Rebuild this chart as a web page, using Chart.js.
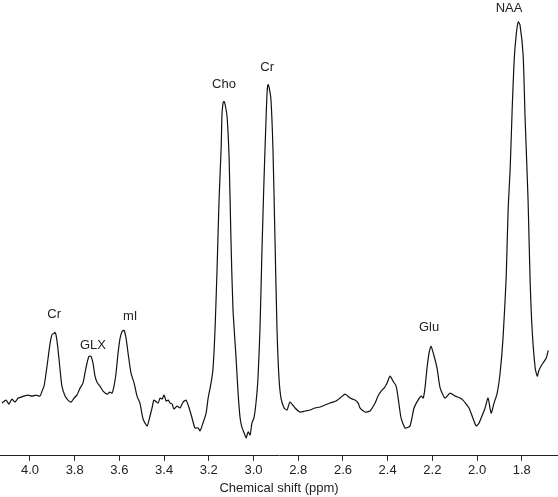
<!DOCTYPE html>
<html>
<head>
<meta charset="utf-8">
<script src="https://cdn.jsdelivr.net/npm/chart.js@4"></script>
<style>
  html, body { margin: 0; padding: 0; background: #fff; }
  #wrap { width: 558px; height: 497px; }
</style>
</head>
<body>
<div id="wrap"><canvas id="spec"></canvas></div>
<script>
// chemical shift (ppm) and signal intensity (arbitrary units)
const shiftPpm = [4.125,4.107,4.094,4.080,4.067,4.053,4.040,4.027,4.009,3.991,3.973,3.955,3.946,3.937,3.928,3.919,3.910,3.901,3.892,3.888,3.883,3.875,3.866,3.857,3.843,3.830,3.816,3.803,3.790,3.776,3.763,3.754,3.745,3.736,3.727,3.718,3.709,3.700,3.687,3.673,3.655,3.642,3.633,3.624,3.615,3.606,3.597,3.588,3.579,3.570,3.561,3.548,3.534,3.521,3.508,3.494,3.476,3.463,3.454,3.445,3.427,3.418,3.409,3.400,3.391,3.382,3.373,3.364,3.356,3.342,3.329,3.315,3.302,3.288,3.275,3.262,3.248,3.239,3.226,3.212,3.203,3.190,3.181,3.172,3.163,3.154,3.145,3.141,3.136,3.132,3.127,3.118,3.109,3.101,3.092,3.078,3.069,3.060,3.051,3.042,3.033,3.024,3.015,3.007,2.998,2.989,2.980,2.971,2.962,2.953,2.944,2.939,2.935,2.930,2.922,2.913,2.904,2.895,2.886,2.877,2.863,2.850,2.837,2.814,2.792,2.769,2.747,2.725,2.702,2.680,2.658,2.644,2.631,2.613,2.590,2.568,2.546,2.532,2.523,2.501,2.479,2.456,2.443,2.429,2.416,2.403,2.389,2.376,2.362,2.353,2.340,2.322,2.300,2.282,2.264,2.250,2.241,2.233,2.224,2.215,2.206,2.192,2.179,2.165,2.143,2.121,2.098,2.076,2.063,2.049,2.036,2.022,2.004,1.991,1.978,1.964,1.951,1.937,1.924,1.910,1.897,1.884,1.870,1.861,1.852,1.843,1.834,1.825,1.816,1.808,1.794,1.785,1.772,1.763,1.754,1.740,1.731,1.723,1.709,1.691,1.682];
const intensity = [53,56,52,57,54,58,59,60,61,60,61,60,65,70,83,98,113,122,123,124,121,108,88,70,60,56,54,58,61,68,73,83,93,100,100,93,80,74,70,65,62,64,63,70,83,103,118,125,126,118,103,83,73,60,53,37,30,40,48,56,53,58,57,61,55,56,53,52,47,50,48,54,56,48,38,28,28,25,33,43,58,73,88,128,188,258,308,343,355,356,353,340,298,218,148,98,63,38,28,23,18,24,21,33,38,53,78,128,208,278,338,366,373,370,358,308,218,128,78,58,48,46,54,48,44,45,46,48,49,51,53,54,55,58,62,58,56,53,48,44,45,53,60,65,68,73,80,75,70,58,38,28,30,48,56,60,58,68,88,103,110,100,88,68,58,63,60,58,56,52,48,40,30,33,40,48,58,43,53,63,83,118,178,248,288,348,398,423,436,433,403,338,258,178,128,88,80,86,92,98,106,103,112,115,116,116];

// x axis ticks
const tickPpm = [4.0,3.8,3.6,3.4,3.2,3.0,2.8,2.6,2.4,2.2,2.0,1.8];

// peak labels
const peakNames = ['Cr','GLX','mI','Cho','Cr','Glu','NAA'];
const peakPpm = [3.892,3.718,3.552,3.132,2.939,2.215,1.857];
const peakLabelY = [142,111,140,373,390,129,450];

const FONT = '"Liberation Sans", Arial, sans-serif';

const peakLabels = {
  id: 'peakLabels',
  afterDatasetsDraw(chart) {
    const { ctx, scales: { x, y } } = chart;
    ctx.save();
    ctx.fillStyle = '#222';
    ctx.font = '13px ' + FONT;
    ctx.textAlign = 'center';
    ctx.textBaseline = 'middle';
    peakNames.forEach((name, i) => {
      ctx.fillText(name, x.getPixelForValue(peakPpm[i]), y.getPixelForValue(peakLabelY[i]));
    });
    ctx.restore();
  }
};

new Chart(document.getElementById('spec'), {
  type: 'line',
  data: {
    datasets: [{
      data: shiftPpm.map((p, i) => ({ x: p, y: intensity[i] })),
      borderColor: '#111',
      borderWidth: 1.2,
      pointRadius: 0,
      tension: 0.2,
      fill: false
    }]
  },
  options: {
    responsive: true,
    maintainAspectRatio: false,
    animation: false,
    layout: { padding: 0 },
    plugins: { legend: { display: false }, tooltip: { enabled: false } },
    scales: {
      x: {
        type: 'linear',
        reverse: true,
        min: 1.638,
        max: 4.134,
        afterBuildTicks: axis => { axis.ticks = tickPpm.map(v => ({ value: v })); },
        ticks: {
          color: '#222',
          font: { size: 13, family: FONT },
          padding: 2,
          maxRotation: 0,
          autoSkip: false,
          callback: v => v.toFixed(1)
        },
        grid: { display: true, drawOnChartArea: false, drawTicks: true, tickLength: 5, color: '#222' },
        border: { display: true, color: '#222', width: 1 },
        title: {
          display: true,
          text: 'Chemical shift (ppm)',
          color: '#222',
          font: { size: 13, family: FONT },
          padding: { top: 0, bottom: 1 }
        }
      },
      y: { display: false, min: 0, max: 458 }
    }
  },
  plugins: [peakLabels]
});
</script>
</body>
</html>
